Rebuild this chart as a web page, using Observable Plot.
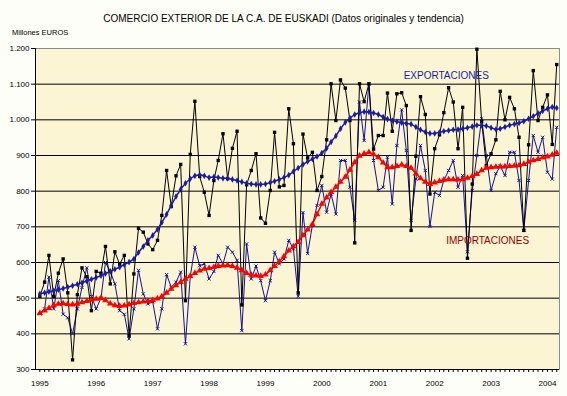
<!DOCTYPE html>
<html><head><meta charset="utf-8">
<script src="https://cdn.jsdelivr.net/npm/d3@7"></script>
<script src="https://cdn.jsdelivr.net/npm/@observablehq/plot@0.6"></script>
<style>
body{margin:0;background:#fefef9;font-family:"Liberation Sans",Arial,sans-serif;}
#wrap{position:relative;width:567px;height:396px;}
#title{position:absolute;left:0;width:567px;top:13px;text-align:center;font-size:10px;line-height:12px;color:#000;}
#units{position:absolute;left:12px;top:28px;font-size:7.5px;line-height:10px;color:#000;}
#wrap svg{position:absolute;left:0;top:0;}
</style></head><body>
<div id="wrap"><div id="title">COMERCIO EXTERIOR DE LA C.A. DE EUSKADI (Datos originales y tendencia)</div><div id="units">Millones EUROS</div></div>
<script>
const startYear = 1995;
const expOrig = [505,545,620,505,570,610,515,327,510,585,560,465,
575,570,645,540,630,595,620,395,568,696,685,652,
636,662,732,858,757,843,875,493,903,1052,841,797,
732,830,886,961,835,920,968,481,818,858,905,725,
710,802,965,812,816,1031,933,515,960,893,909,802,
841,944,1101,998,1112,1089,998,655,1101,1051,1101,918,
956,956,1075,968,1073,1076,1040,690,898,1065,1015,792,
919,958,1020,1090,1050,919,1035,612,820,1198,995,872,
905,944,1080,1000,1063,1031,951,690,930,1138,998,1035,
1070,931,1155];
const expTrend = [512,515,518,521,524,527,531,535,539,543,548,553,
558,563,569,575,581,587,594,601,610,628,645,662,
676,693,712,735,760,785,805,822,835,843,846,843,
838,840,838,836,836,833,830,826,822,820,819,819,
820,824,828,833,838,845,855,865,875,883,890,897,
907,920,938,955,975,993,1005,1015,1020,1023,1022,1019,
1015,1008,1002,998,995,992,990,988,980,972,966,962,
962,965,968,970,972,973,975,978,981,985,985,983,
978,973,975,980,985,988,991,996,1003,1010,1018,1025,
1031,1036,1033];
const impOrig = [456,470,559,470,549,455,445,400,470,530,585,505,
470,500,600,575,540,465,455,386,470,578,512,484,
490,414,470,566,531,545,573,372,560,643,591,596,
554,575,620,596,643,629,606,409,652,554,590,549,
493,549,629,596,610,662,638,505,740,625,704,760,
816,741,792,736,886,886,811,718,1050,942,1101,886,
802,811,895,764,928,1028,914,718,834,928,858,701,
797,788,830,858,886,811,844,630,802,900,1003,900,
802,849,870,844,909,909,830,690,830,956,909,951,
853,834,979];
const impTrend = [458,465,472,480,484,485,483,482,484,488,492,495,
498,500,494,485,480,478,479,482,486,488,490,492,
494,499,505,515,526,536,545,554,562,570,577,582,
584,587,590,591,592,590,585,578,570,565,563,562,
566,578,590,603,617,633,645,657,676,692,707,735,
764,782,797,812,826,840,860,881,899,905,909,903,
895,880,867,867,870,874,870,865,849,836,826,820,
824,828,832,833,833,832,833,837,842,848,858,865,
867,868,869,869,870,871,872,876,882,886,890,894,
897,902,907];
const yearLabels = ["1995","1996","1997","1998","1999","2000","2001","2002","2003","2004"];
const yTicks = [300,400,500,600,700,800,900,1000,1100,1200];
const seriesNames = ["EXPORTACIONES","IMPORTACIONES"];

const dates = expOrig.map((_, i) => new Date(Date.UTC(startYear, i, 1)));
const rows = arr => arr.map((v, i) => ({date: dates[i], value: v}));
const fmt = d3.formatLocale({decimal: ",", thousands: ".", grouping: [3], currency: ["", ""]}).format(",");
const x0 = new Date(Date.UTC(1994, 11, 4)), x1 = new Date(Date.UTC(2004, 2, 19));
const yearDates = yearLabels.map(y => new Date(Date.UTC(+y, 0, 1)));
const monthTicks = d3.utcMonths(new Date(Date.UTC(1995,0,1)), new Date(Date.UTC(2004,3,1)));

const EXP = "#1c1ca0", IMP = "#10109c", RED = "#ff0000";

const chart = Plot.plot({
  width: 567, height: 396,
  marginLeft: 35, marginRight: 8, marginTop: 48, marginBottom: 27,
  style: {background: "transparent", fontFamily: "Liberation Sans, Arial, sans-serif", fontSize: "8px", overflow: "visible"},
  x: {type: "utc", domain: [x0, x1]},
  y: {domain: [300, 1200]},
  marks: [
    Plot.frame({fill: "#fbf5d3", stroke: "#8c8c8c"}),
    Plot.ruleY(yTicks.slice(1, -1), {stroke: "#000", strokeWidth: 1}),
    Plot.ruleX([x0], {stroke: "#000"}),
    Plot.ruleY([300], {stroke: "#000"}),
    Plot.axisY({ticks: yTicks, tickFormat: fmt, tickSize: 4, tickPadding: 2, label: null, fontSize: 8}),
    Plot.axisX({ticks: monthTicks, tickFormat: () => "", tickSize: 3, label: null}),
    Plot.axisX({ticks: yearDates, tickFormat: d => yearLabels[d.getUTCFullYear() - startYear], tickSize: 0, tickPadding: 11, label: null, fontSize: 8}),
    Plot.line(rows(impOrig), {x: "date", y: "value", stroke: IMP, strokeWidth: 1}),
    Plot.dot(rows(impOrig), {x: "date", y: "value", symbol: "times", stroke: IMP, r: 1.6, strokeWidth: 1}),
    Plot.line(rows(expOrig), {x: "date", y: "value", stroke: "#000", strokeWidth: 1}),
    Plot.dot(rows(expOrig), {x: "date", y: "value", symbol: "square", fill: "#000", r: 1.9}),
    Plot.line(rows(impTrend), {x: "date", y: "value", stroke: RED, strokeWidth: 1.5}),
    Plot.dot(rows(impTrend), {x: "date", y: "value", symbol: "triangle", fill: RED, r: 2.4}),
    Plot.line(rows(expTrend), {x: "date", y: "value", stroke: EXP, strokeWidth: 1.5}),
    Plot.dot(rows(expTrend), {x: "date", y: "value", symbol: "diamond", fill: EXP, r: 2}),
    Plot.text([seriesNames[0]], {x: () => new Date(Date.UTC(2001, 5, 14)), y: () => 1124, text: d => d, textAnchor: "start", fill: EXP, fontSize: 10}),
    Plot.text([seriesNames[1]], {x: () => new Date(Date.UTC(2002, 2, 16)), y: () => 662, text: d => d, textAnchor: "start", fill: "#990000", fontSize: 10})
  ]
});
document.getElementById("wrap").prepend(chart);
</script>
</body></html>
